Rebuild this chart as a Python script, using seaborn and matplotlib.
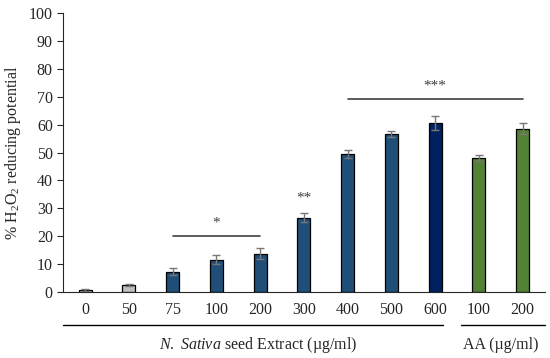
"""H2O2 reducing potential bar chart with seaborn + matplotlib"""
import matplotlib
matplotlib.use("Agg")
import matplotlib.pyplot as plt
import seaborn as sns
import pandas as pd

# data
keys = ["0", "50", "75", "100", "200", "300", "400", "500", "600", "AA100", "AA200"]
tick_labels = ["0", "50", "75", "100", "200", "300", "400", "500", "600", "100", "200"]
values = [0.8, 2.5, 7.3, 11.6, 13.8, 26.7, 49.4, 56.7, 60.6, 48.0, 58.5]
errors = [0.3, 0.4, 1.3, 1.6, 2.0, 1.6, 1.5, 1.0, 2.4, 1.2, 2.0]
colors = ["#c0c0c0", "#c0c0c0", "#1f4e79", "#1f4e79", "#1f4e79", "#1f4e79",
          "#1f4e79", "#1f4e79", "#002060", "#548235", "#548235"]


def main():
    sns.set_style("ticks")
    plt.rcParams["font.family"] = ["Liberation Serif", "DejaVu Serif"]
    plt.rcParams["mathtext.fontset"] = "custom"
    plt.rcParams["mathtext.rm"] = "Liberation Serif"
    plt.rcParams["mathtext.it"] = "Liberation Serif:italic"

    df = pd.DataFrame({"key": keys, "value": values})

    fig, ax = plt.subplots(figsize=(5.5, 3.58), dpi=100)
    fig.subplots_adjust(left=0.115, right=0.99, bottom=0.184, top=0.964)

    sns.barplot(data=df, x="key", y="value", hue="key", palette=colors,
                legend=False, width=0.3, edgecolor="black", linewidth=0.9,
                saturation=1, ax=ax)
    ax.errorbar(range(len(keys)), values, yerr=errors, fmt="none",
                ecolor="#777777", elinewidth=1, capsize=3, capthick=1)

    ax.set_xlim(-0.5, len(keys) - 0.5)
    ax.set_ylim(0, 100)
    ax.set_yticks(range(0, 101, 10))
    ax.set_xticks(range(len(keys)))
    ax.set_xticklabels(tick_labels)
    ax.tick_params(axis="x", length=0, labelsize=11.5, pad=7)
    ax.tick_params(axis="y", labelsize=11.5, length=4)
    ax.set_xlabel("")
    ax.set_ylabel("% H$_2$O$_2$ reducing potential", fontsize=11.5)
    sns.despine(ax=ax)

    # significance marks
    ax.plot([2, 4], [20, 20], color="#404040", lw=1.2)
    ax.text(3, 22.5, "*", ha="center", va="bottom", fontsize=11, color="#404040")
    ax.text(5, 31.5, "**", ha="center", va="bottom", fontsize=11, color="#404040")
    ax.plot([6, 10], [69, 69], color="#404040", lw=1.2)
    ax.text(8, 71.5, "***", ha="center", va="bottom", fontsize=11, color="#404040")

    # group lines and labels below the axis
    tr = ax.get_xaxis_transform()
    ax.plot([-0.5, 8.18], [-0.118, -0.118], transform=tr, color="black",
            lw=1, clip_on=False)
    ax.plot([8.6, 10.5], [-0.118, -0.118], transform=tr, color="black",
            lw=1, clip_on=False)
    ax.text(3.95, -0.19, "$\\it{N.}$ $\\it{Sativa}$ seed Extract (µg/ml)",
            transform=tr, ha="center", va="center", fontsize=11.5)
    ax.text(9.5, -0.19, "AA (µg/ml)", transform=tr, ha="center", va="center",
            fontsize=11.5)

    fig.savefig("out.png", dpi=100)


if __name__ == '__main__':
    main()
